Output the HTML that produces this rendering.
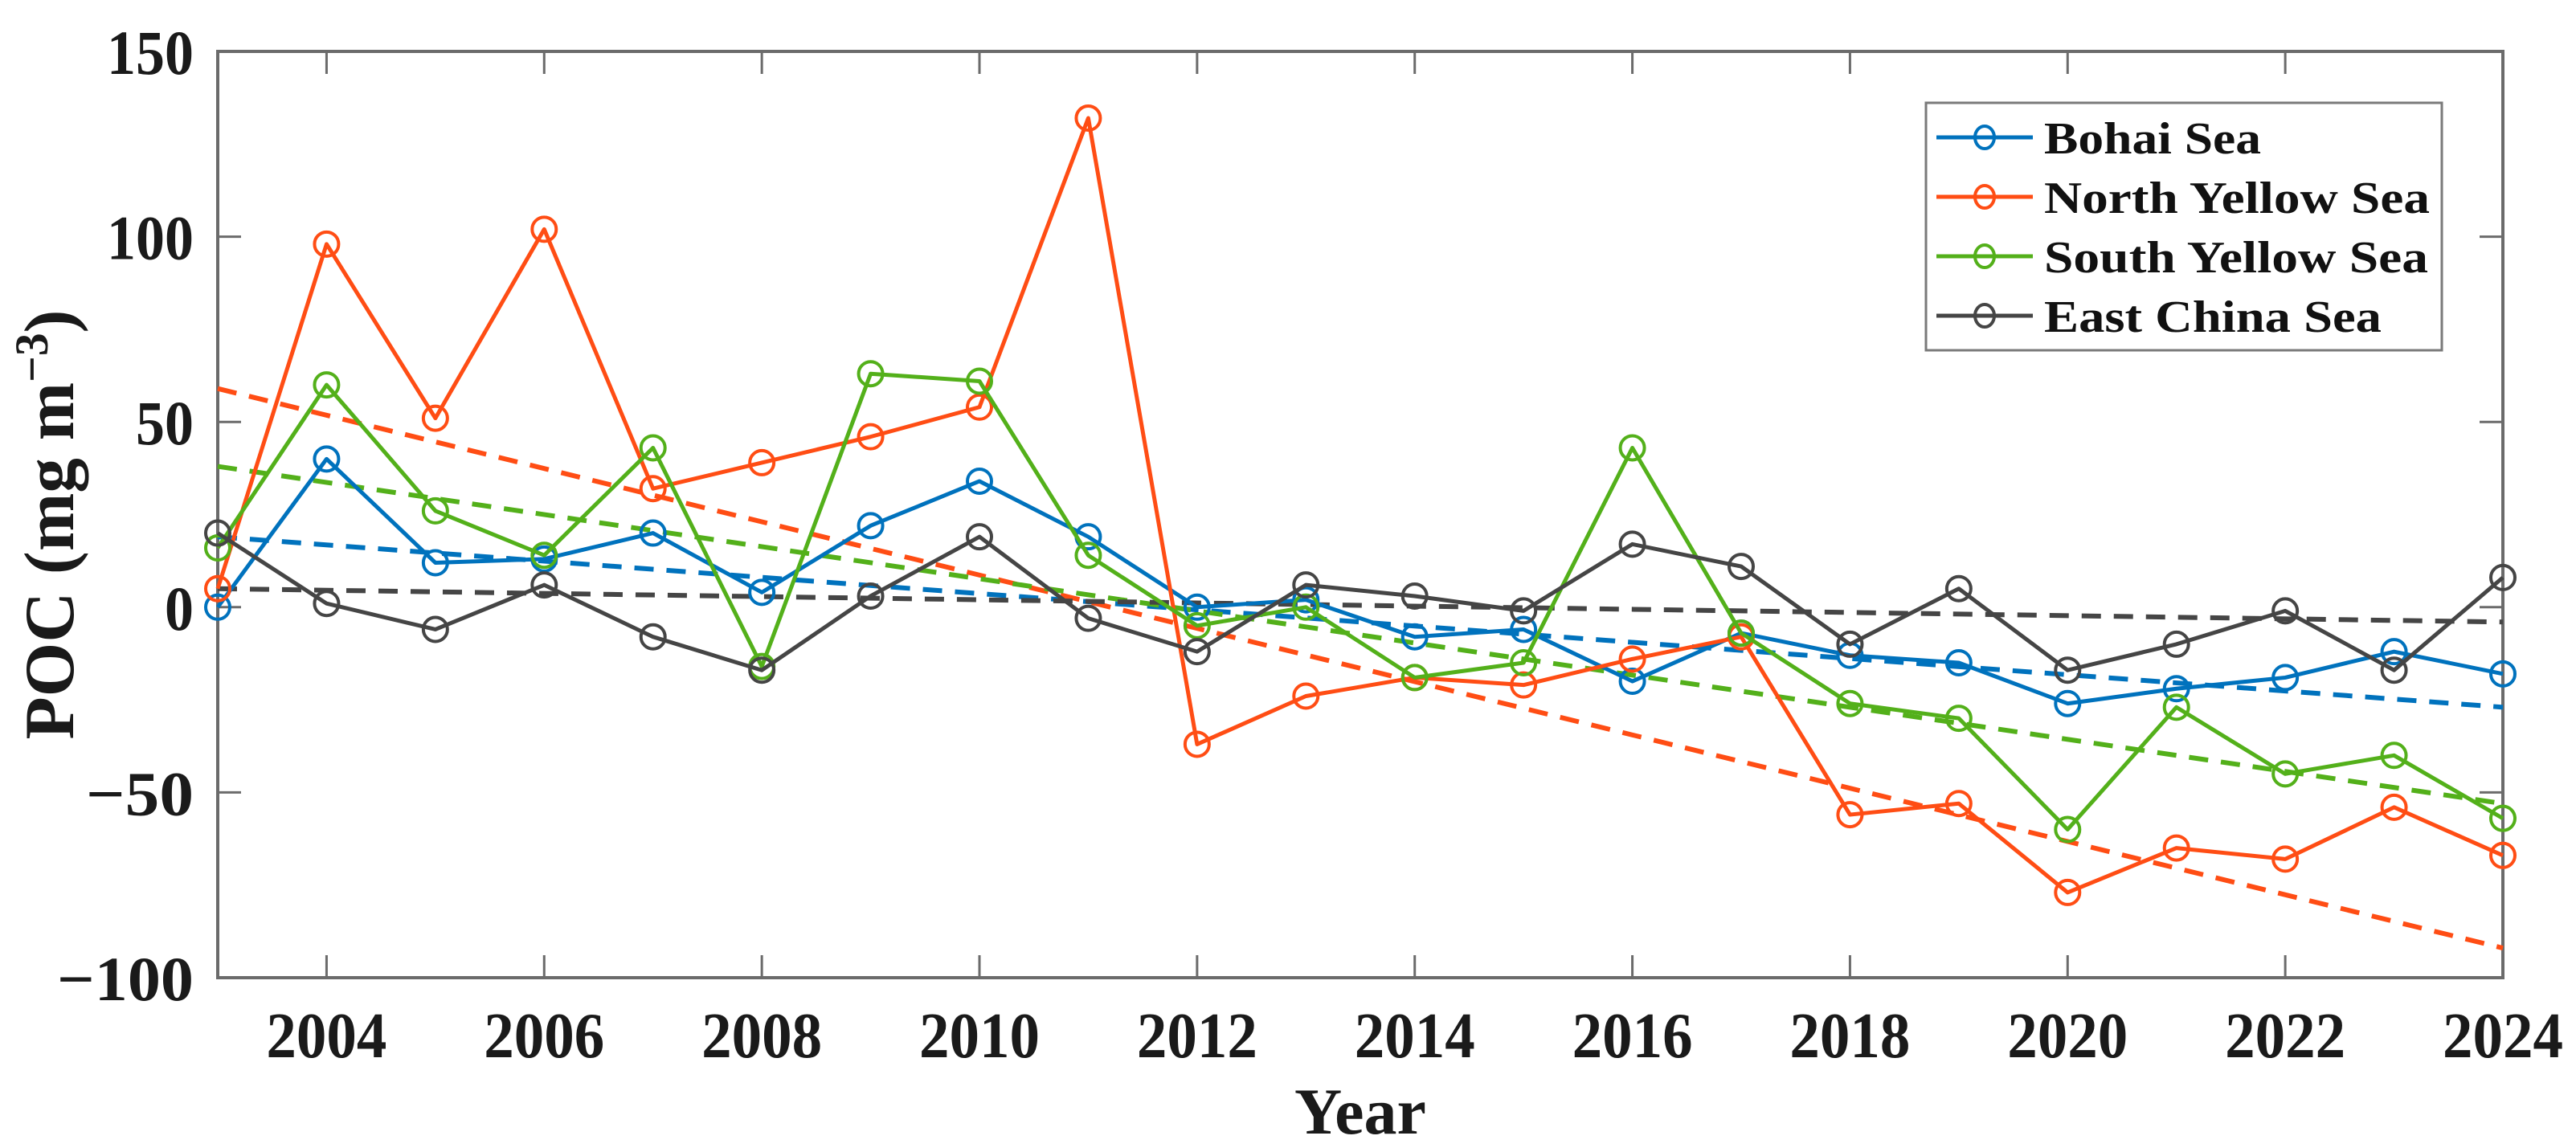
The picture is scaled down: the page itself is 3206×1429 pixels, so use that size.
<!DOCTYPE html>
<html><head><meta charset="utf-8"><style>
html,body{margin:0;padding:0;background:#fff;}
svg{display:block;font-family:"Liberation Serif",serif;font-weight:bold;}
</style></head><body>
<svg id="chart" width="3206" height="1429" viewBox="0 0 3206 1429" xmlns="http://www.w3.org/2000/svg"></svg>
<script>
const years = [2003,2004,2005,2006,2007,2008,2009,2010,2011,2012,2013,2014,2015,2016,2017,2018,2019,2020,2021,2022,2023,2024];
const bohai = [0,40,12,13,20,4,22,34,19,0,2,-8,-6,-20,-7,-13,-15,-26,-22,-19,-12,-18];
const northYellow = [5,98,51,102,32,39,46,54,132,-37,-24,-19,-21,-14,-8,-56,-53,-77,-65,-68,-54,-67];
const southYellow = [16,60,26,14,43,-16,63,61,14,-5,0,-19,-15,43,-7,-26,-30,-60,-27,-45,-40,-57];
const eastChina = [20,1,-6,6,-8,-17,3,19,-3,-12,6,3,-1,17,11,-10,5,-17,-10,-1,-17,8];
const trendStart = [19,59,38,5];
const trendEnd = [-27,-92,-53,-4];
const seriesNames = ["Bohai Sea","North Yellow Sea","South Yellow Sea","East China Sea"];
const yTicks = [150,100,50,0,-50,-100];
const yTickLabels = ["150","100","50","0","\u221250","\u2212100"];
const xTicks = [2004,2006,2008,2010,2012,2014,2016,2018,2020,2022,2024];

const colors = ["#0072BD","#FF4D14","#53B01A","#454545"];
const L=271,R=3115,T=64,B=1217;
const xMin=2003,xMax=2024,yMin=-100,yMax=150;
const X=v=>L+(v-xMin)/(xMax-xMin)*(R-L);
const Y=v=>B-(v-yMin)/(yMax-yMin)*(B-T);
const svg=document.getElementById('chart');
const NS="http://www.w3.org/2000/svg";
function mk(tag,attrs,parent){const e=document.createElementNS(NS,tag);for(const k in attrs)e.setAttribute(k,attrs[k]);(parent||svg).appendChild(e);return e;}

const box=mk('rect',{x:L,y:T,width:R-L,height:B-T,fill:'none',stroke:'#6b6b6b','stroke-width':4});



const tickG=mk('g',{stroke:'#6b6b6b','stroke-width':3});


yTicks.forEach((v,i)=>{
  const y=Y(v);
  mk('line',{x1:L,x2:L+29,y1:y,y2:y},tickG);
  mk('line',{x1:R-29,x2:R,y1:y,y2:y},tickG);
  const lab=yTickLabels[i];
  const neg=lab.charAt(0)==='\u2212';
  const w=(neg?lab.length-1:lab.length)*36+(neg?62:0);
  const t=mk('text',{x:241,y:y+28,'text-anchor':'end','font-size':78,fill:'#1a1a1a',textLength:w,lengthAdjust:'spacingAndGlyphs'});
  t.textContent=lab;
  
  
});
xTicks.forEach(v=>{
  const x=X(v);
  mk('line',{x1:x,x2:x,y1:B,y2:B-28},tickG);
  mk('line',{x1:x,x2:x,y1:T,y2:T+28},tickG);
  const t=mk('text',{x:x,y:1316,'text-anchor':'middle','font-size':80,fill:'#1a1a1a',textLength:150,lengthAdjust:'spacingAndGlyphs'});
  t.textContent=String(v);
  
  
});

const xt=mk('text',{x:1693,y:1411,'text-anchor':'middle','font-size':82,fill:'#1a1a1a'});
xt.textContent='Year';



const yt=mk('text',{x:0,y:0,'text-anchor':'middle','font-size':88,fill:'#1a1a1a',transform:'translate(91,653) rotate(-90)',textLength:535,lengthAdjust:'spacingAndGlyphs'});
yt.innerHTML='POC (mg m<tspan dy="-32" font-size="58">\u22123</tspan><tspan dy="32">)</tspan>';



const all=[bohai,northYellow,southYellow,eastChina];
all.forEach((s,i)=>{
  const tl=mk('line',{x1:X(years[0]),y1:Y(trendStart[i]),x2:X(years[years.length-1]),y2:Y(trendEnd[i]),stroke:colors[i],'stroke-width':6,'stroke-dasharray':'24 16'});
  
  
});
all.forEach((s,i)=>{
  const g=mk('g',{});
  
  
  const pts=s.map((v,j)=>X(years[j])+','+Y(v)).join(' ');
  const pl=mk('polyline',{points:pts,fill:'none',stroke:colors[i],'stroke-width':5,'stroke-linejoin':'round'},g);
  
  
  s.forEach((v,j)=>{
    const c=mk('circle',{cx:X(years[j]),cy:Y(v),r:15,fill:'none',stroke:colors[i],'stroke-width':4},g);
    
    
  });
});

const lg=mk('g',{});


mk('rect',{x:2397,y:128,width:642,height:308,fill:'#fff',stroke:'#7a7a7a','stroke-width':3},lg);
const rowsY=[171,245,319,393];
const widths=[270,480,478,420];
seriesNames.forEach((n,i)=>{
  const e=mk('g',{},lg);
  
  
  mk('line',{x1:2410,x2:2530,y1:rowsY[i],y2:rowsY[i],stroke:colors[i],'stroke-width':5},e);
  mk('ellipse',{cx:2470,cy:rowsY[i],rx:12,ry:14,fill:'none',stroke:colors[i],'stroke-width':4},e);
  const t=mk('text',{x:2544,y:rowsY[i]+20,'font-size':56,fill:'#111',textLength:widths[i],lengthAdjust:'spacingAndGlyphs'},e);
  t.textContent=n;
});
</script>
</body></html>
